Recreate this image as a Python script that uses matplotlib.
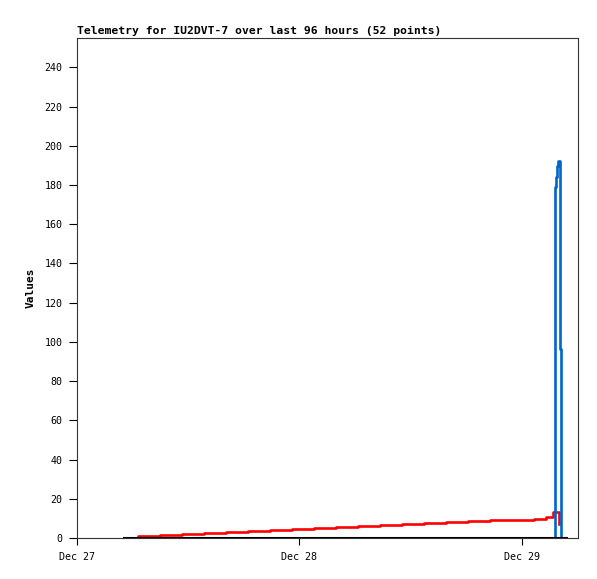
'''
Telemetria IU2DVT-7 - ultimas 96 horas
'''
import matplotlib
matplotlib.use("Agg")
import matplotlib.pyplot as plt
import matplotlib.dates as mdates
from datetime import datetime, timedelta

#=====================================================
# dados (horas a partir de 27 dez 00:00)

inicio = datetime(2023, 12, 27)

horas_vermelho = [5.05, 6.56, 8.94, 11.32, 13.70, 16.08, 18.45, 20.83, 23.21,
                  25.59, 27.97, 30.35, 32.72, 35.10, 37.48, 39.86, 42.24,
                  44.62, 46.99, 49.37, 50.65, 51.41, 52.07]
valores_vermelho = [0.0, 0.9, 1.4, 1.9, 2.4, 2.9, 3.4, 3.9, 4.4, 4.9, 5.4,
                    5.9, 6.4, 6.9, 7.5, 8.0, 8.5, 9.0, 9.4, 9.9, 10.7, 13.3, 7.1]

horas_azul = [5.05, 51.59, 51.75, 51.86, 51.97, 52.21, 52.28, 52.79]
valores_azul = [0, 179, 184, 189.5, 192.5, 96.5, 0, 0]

horas_preto = [5.05, 52.79]
valores_preto = [0, 0]

titulo = "Telemetry for IU2DVT-7 over last 96 hours (52 points)"
rotulos_y = list(range(0, 241, 20))

#=====================================================

def para_datas(horas):
    return [inicio + timedelta(hours=h) for h in horas]

plt.rcParams['font.family'] = ['DejaVu Sans Mono']

fig = plt.figure(figsize=(5.97, 5.79), dpi=100)
ax = fig.add_axes([77 / 597, 1 - 538 / 579, 501 / 597, 500 / 579])

ax.plot(para_datas(horas_vermelho), valores_vermelho, color="#ff0000",
        lw=1.9, drawstyle="steps-post", zorder=2)
ax.plot(para_datas(horas_azul), valores_azul, color="#0066cc",
        lw=1.9, drawstyle="steps-post", zorder=3)
ax.plot(para_datas(horas_preto), valores_preto, color="#000000",
        lw=2.2, drawstyle="steps-post", zorder=4)

ax.set_xlim(inicio, inicio + timedelta(hours=54.1))
ax.set_ylim(0, 255)
ax.set_yticks(rotulos_y)
ax.xaxis.set_major_locator(mdates.DayLocator())
ax.xaxis.set_major_formatter(mdates.DateFormatter("%b %d"))

ax.tick_params(axis="y", direction="out", length=6, width=0.8, pad=4.5,
               labelsize=7.2)
ax.tick_params(axis="x", direction="out", length=5, width=0.8, pad=5,
               labelsize=7.2)
for lado in ax.spines.values():
    lado.set_color("#333333")
    lado.set_linewidth(0.8)

ax.set_title(titulo, loc="left", fontsize=8.2, fontweight="bold", pad=3)
ax.set_ylabel("Values", fontsize=8, fontweight="bold", labelpad=6)

plt.savefig("out.png", dpi=100)
